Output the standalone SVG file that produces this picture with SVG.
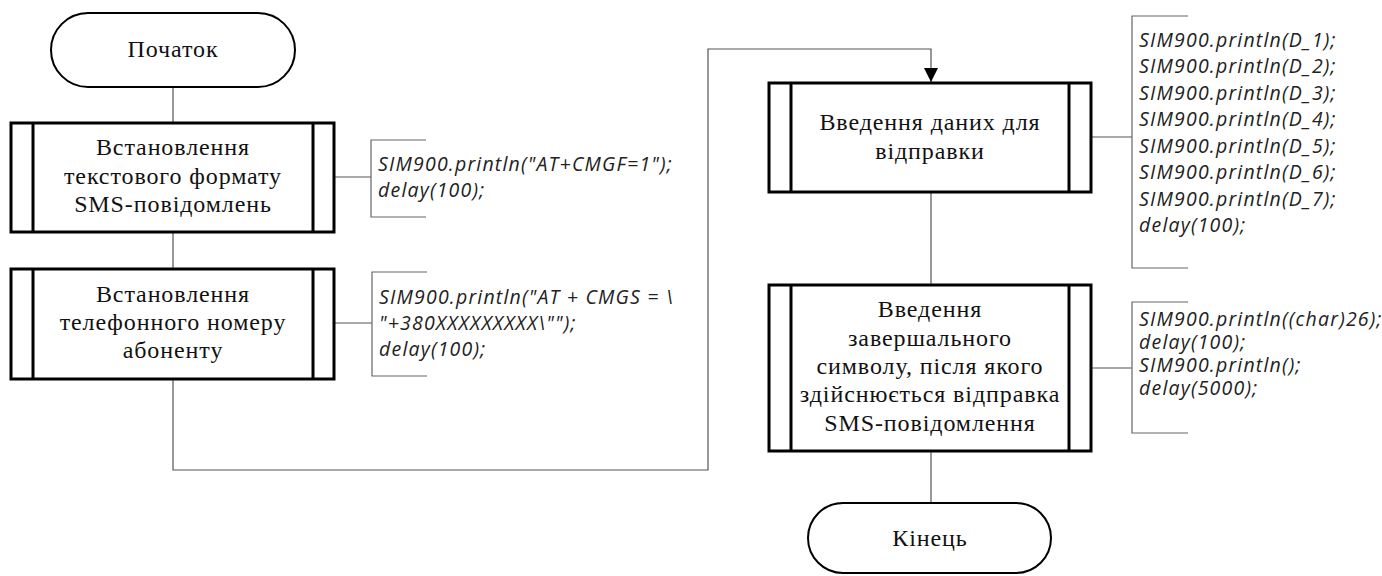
<svg xmlns="http://www.w3.org/2000/svg" width="1382" height="576" viewBox="0 0 1382 576">
<style>
.term{fill:#fff;stroke:#000;stroke-width:2}
.box{fill:#fff;stroke:#000;stroke-width:3}
.bar{stroke:#000;stroke-width:3}
.t{font-family:"Liberation Serif","Times New Roman",serif;font-size:24px;letter-spacing:0.9px;fill:#111;text-anchor:middle}
.c{font-family:"Open Sans","Noto Sans",sans-serif;font-style:italic;font-size:19.5px;letter-spacing:1.2px;fill:#222}
.ln{fill:none;stroke:#555;stroke-width:1.2}
.br{fill:none;stroke:#666;stroke-width:1.2}
</style>
<defs>
<marker id="ah" markerWidth="16" markerHeight="16" refX="14" refY="7" orient="auto" markerUnits="userSpaceOnUse">
<path d="M0,0 L14,7 L0,14 Z" fill="#000"/>
</marker>
</defs>
<g id="connectors">
<path class="ln" d="M173,87 V123"/>
<path class="ln" d="M173,232 V269"/>
<path class="ln" d="M173,379 V470 H708 V49 H931 V82" marker-end="url(#ah)"/>
<path class="ln" d="M931,192 V285"/>
<path class="ln" d="M931,451 V503"/>
<path class="ln" d="M334,177 H371"/>
<path class="ln" d="M334,323 H372"/>
<path class="ln" d="M1091,137 H1132"/>
<path class="ln" d="M1091,368 H1132"/>
</g>
<g id="start">
<rect class="term" x="51" y="13" width="244" height="74" rx="37" ry="37"/>
<text class="t" x="173" y="57">Початок</text>
</g>
<g id="box1">
<rect class="box" x="11" y="123" width="323" height="109"/>
<line class="bar" x1="33" y1="123" x2="33" y2="232"/>
<line class="bar" x1="313" y1="123" x2="313" y2="232"/>
<text class="t" x="173" y="155.2">Встановлення</text>
<text class="t" x="173" y="183.5">текстового формату</text>
<text class="t" x="173" y="211.8"> SMS-повідомлень</text>
</g>
<g id="note1">
<path class="br" d="M426,140 H371 V217 H426"/>
<text class="c" x="378" y="171">SIM900.println("AT+CMGF=1");</text>
<text class="c" x="378" y="197">delay(100);</text>
</g>
<g id="box2">
<rect class="box" x="11" y="269" width="323" height="110"/>
<line class="bar" x1="33" y1="269" x2="33" y2="379"/>
<line class="bar" x1="313" y1="269" x2="313" y2="379"/>
<text class="t" x="173" y="301.7">Встановлення</text>
<text class="t" x="173" y="330">телефонного номеру</text>
<text class="t" x="173" y="358.3">абоненту</text>
</g>
<g id="note2">
<path class="br" d="M427,272 H372 V376 H427"/>
<text class="c" x="379" y="304">SIM900.println("AT + CMGS = \</text>
<text class="c" x="379" y="330">"+380XXXXXXXXX\"");</text>
<text class="c" x="379" y="356">delay(100);</text>
</g>
<g id="box3">
<rect class="box" x="769" y="83" width="322" height="109"/>
<line class="bar" x1="791" y1="83" x2="791" y2="192"/>
<line class="bar" x1="1069" y1="83" x2="1069" y2="192"/>
<text class="t" x="930" y="130">Введення даних для</text>
<text class="t" x="930" y="158.5">відправки</text>
</g>
<g id="note3">
<path class="br" d="M1188,16 H1132 V268 H1188"/>
<text class="c" x="1139" y="46.5">SIM900.println(D_1);</text>
<text class="c" x="1139" y="73">SIM900.println(D_2);</text>
<text class="c" x="1139" y="99.5">SIM900.println(D_3);</text>
<text class="c" x="1139" y="126">SIM900.println(D_4);</text>
<text class="c" x="1139" y="152.5">SIM900.println(D_5);</text>
<text class="c" x="1139" y="179">SIM900.println(D_6);</text>
<text class="c" x="1139" y="205.5">SIM900.println(D_7);</text>
<text class="c" x="1139" y="232">delay(100);</text>
</g>
<g id="box4">
<rect class="box" x="769" y="285" width="322" height="166"/>
<line class="bar" x1="791" y1="285" x2="791" y2="451"/>
<line class="bar" x1="1069" y1="285" x2="1069" y2="451"/>
<text class="t" x="930" y="317.4">Введення</text>
<text class="t" x="930" y="345.7">завершального</text>
<text class="t" x="930" y="374">символу, після якого</text>
<text class="t" x="930" y="402.3">здійснюється відправка</text>
<text class="t" x="930" y="430.6"> SMS-повідомлення</text>
</g>
<g id="note4">
<path class="br" d="M1188,302 H1132 V433 H1188"/>
<text class="c" x="1139" y="326">SIM900.println((char)26);</text>
<text class="c" x="1139" y="349">delay(100);</text>
<text class="c" x="1139" y="372">SIM900.println();</text>
<text class="c" x="1139" y="395">delay(5000);</text>
</g>
<g id="end">
<rect class="term" x="808" y="503" width="243" height="70" rx="35" ry="35"/>
<text class="t" x="930" y="546">Кінець</text>
</g>
</svg>
